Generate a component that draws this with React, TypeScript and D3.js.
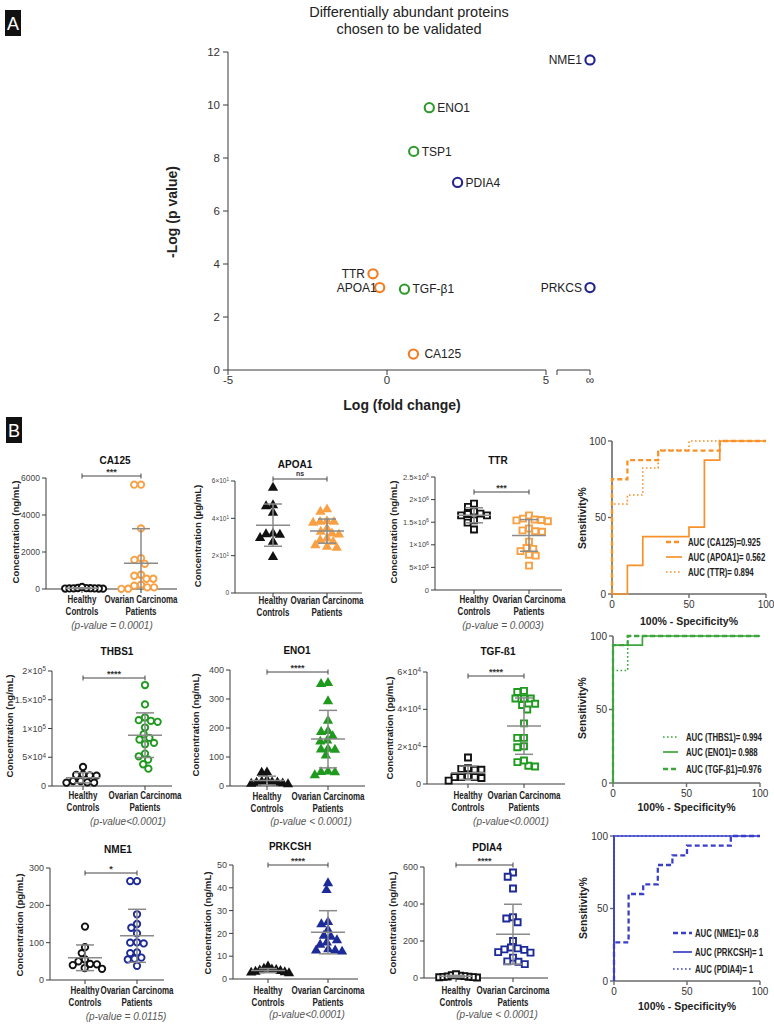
import React from "react";
import * as d3 from "d3";

const FONT = "'Liberation Sans', Arial, Helvetica, sans-serif";

// ---------------- Panel A data ----------------
const volcanoNames = ["NME1", "ENO1", "TSP1", "PDIA4", "TTR", "APOA1", "TGF-β1", "PRKCS", "CA125"];
const volcanoLogFC = [Infinity, 1.33, 0.84, 2.22, -0.44, -0.23, 0.55, Infinity, 0.83];
const volcanoNegLogP = [11.7, 9.9, 8.25, 7.08, 3.63, 3.11, 3.05, 3.11, 0.6];
const volcanoCluster = ["blue", "green", "green", "blue", "orange", "orange", "green", "blue", "orange"];
const volcanoXTicks = [-5, 0, 5];
const volcanoYTicks = [0, 2, 4, 6, 8, 10, 12];

// ---------------- Panel B data ----------------
const groupNames = ["Healthy Controls", "Ovarian Carcinoma Patients"];

const ca125Healthy = [20, 25, 28, 30, 35, 38, 42, 48, 55, 110];
const ca125Ovarian = [5640, 5640, 3276, 1665, 1575, 1360, 770, 555, 555, 716, 180, 90, 10, 15, 90, 233];
const ca125Ticks = [0, 2000, 4000, 6000];
const ca125TickLabels = ["0", "2000", "4000", "6000"];

const apoa1Healthy = [56.4, 46.5, 47, 43, 31.8, 31.5, 31.2, 29.5, 27.4, 19.3];
const apoa1Ovarian = [44.8, 43.5, 38.1, 37.6, 38.1, 38.5, 34.5, 32.8, 31.3, 31.9, 29.2, 28.3, 27.4, 25.6, 24.7, 24.2];
const apoa1Ticks = [0, 20, 40, 60];
const apoa1TickLabels = ["0", "2×10^1", "4×10^1", "6×10^1"];

const ttrHealthy = [1910000, 1840000, 1740000, 1680000, 1650000, 1650000, 1690000, 1540000, 1490000, 1340000];
const ttrOvarian = [1650000, 1560000, 1550000, 1540000, 1520000, 1580000, 1360000, 1320000, 1300000, 1290000, 1070000, 930000, 910000, 860000, 780000, 760000, 540000];
const ttrTicks = [0, 500000, 1000000, 1500000, 2000000, 2500000];
const ttrTickLabels = ["0", "5×10^5", "1×10^6", "1.5×10^6", "2×10^6", "2.5×10^6"];

const thbs1Healthy = [33100, 19800, 18600, 19200, 18000, 8700, 5800, 5800, 6400, 8700];
const thbs1Ovarian = [175600, 141900, 119200, 114500, 113400, 111600, 101700, 90100, 80800, 83700, 72700, 75000, 51700, 56400, 45900, 37800, 30200];
const thbs1Ticks = [0, 50000, 100000, 150000, 200000];
const thbs1TickLabels = ["0", "5×10^4", "1×10^5", "1.5×10^5", "2×10^5"];

const eno1Healthy = [47, 46, 20, 15, 13, 11, 9, 8, 12, 6];
const eno1Ovarian = [355, 352, 292, 225, 190, 186, 172, 157, 153, 128, 126, 125, 105, 48, 37, 47, 50];
const eno1Ticks = [0, 100, 200, 300, 400];
const eno1TickLabels = ["0", "100", "200", "300", "400"];

const tgfHealthy = [14200, 8500, 8000, 7600, 7600, 4100, 3700, 3200, 3700, 3700, 1800];
const tgfOvarian = [49300, 49900, 45800, 45800, 45800, 42300, 43000, 39900, 32500, 24700, 24700, 20200, 19700, 11700, 9400, 9800, 12600];
const tgfTicks = [0, 20000, 40000, 60000];
const tgfTickLabels = ["0", "2×10^4", "4×10^4", "6×10^4"];

const nme1Healthy = [143, 88, 72, 55, 50, 43, 42, 40, 30, 32];
const nme1Ovarian = [265, 265, 176, 150, 140, 125, 101, 100, 98, 74, 72, 60, 57, 55, 38];
const nme1Ticks = [0, 100, 200, 300];
const nme1TickLabels = ["0", "100", "200", "300"];

const prkcshHealthy = [5.5, 4.5, 4.2, 4.0, 3.8, 3.5, 3.2, 3.0, 2.8, 2.5];
const prkcshOvarian = [42, 39, 25, 24, 21.5, 19, 18.5, 17, 16, 15, 13, 12.5, 12, 12.5];
const prkcshTicks = [0, 10, 20, 30, 40, 50];
const prkcshTickLabels = ["0", "10", "20", "30", "40", "50"];

const pdia4Healthy = [3, 4, 5, 6, 7, 8, 10, 12, 15, 20];
const pdia4Ovarian = [570, 547, 484, 328, 322, 301, 200, 160, 155, 152, 165, 140, 137, 110, 90, 88, 75];
const pdia4Ticks = [0, 200, 400, 600];
const pdia4TickLabels = ["0", "200", "400", "600"];

// ROC curves: [100% - specificity, sensitivity]
const rocCA125 = [[0, 0], [0, 75], [10, 75], [10, 87.5], [30, 87.5], [30, 93.75], [70, 93.75], [70, 100], [100, 100]];
const rocAPOA1 = [[0, 0], [10, 0], [10, 18.75], [20, 18.75], [20, 37.5], [50, 37.5], [50, 43.75], [60, 43.75], [60, 87.5], [70, 87.5], [70, 100], [100, 100]];
const rocTTR = [[0, 0], [0, 58.8], [10, 58.8], [10, 64.7], [20, 64.7], [20, 82.4], [30, 82.4], [30, 94.1], [50, 94.1], [50, 100], [100, 100]];
const rocTHBS1 = [[0, 0], [0, 76.5], [10, 76.5], [10, 100], [100, 100]];
const rocENO1 = [[0, 0], [0, 93.75], [20, 93.75], [20, 100], [100, 100]];
const rocTGF = [[0, 0], [0, 93.75], [10, 93.75], [10, 100], [100, 100]];
const rocNME1 = [[0, 0], [0, 26.7], [10, 26.7], [10, 60], [20, 60], [20, 66.7], [30, 66.7], [30, 80], [40, 80], [40, 86.7], [50, 86.7], [50, 93.3], [80, 93.3], [80, 100], [100, 100]];
const rocPRKCSH = [[0, 0], [0, 100], [100, 100]];
const rocPDIA4 = [[0, 0], [0, 100], [100, 100]];
const rocTicks = [0, 50, 100];

// ---------------- styles / layout ----------------
const A_COLORS: Record<string, string> = { orange: "#F47D22", green: "#2E9A2E", blue: "#24248E" };
const B_ORANGE = "#F8A043";
const B_GREEN = "#1F9A1F";
const B_NAVY = "#1D2B98";
const AXIS = "#3a3a3a";
const BAR = "#8a8a8a";

const volcanoLabelAnchor: Record<string, "start" | "end"> = {
  NME1: "end", ENO1: "start", TSP1: "start", PDIA4: "start", TTR: "end",
  APOA1: "end", "TGF-β1": "start", PRKCS: "end", CA125: "start",
};
const volcanoLabelGap: Record<string, number> = { APOA1: 3, CA125: 11 };

type Shape = "circle" | "triangle" | "square";
interface ScatterLayout {
  ax: number; y0: number; yTop: number; cH: number; cO: number; xEnd: number;
  titleX: number; titleY: number; bracketY: number; yLabX: number; yLabY: number;
  catY: number; pX: number; pY: number; tickFont: number;
}
interface ScatterCfg {
  title: string; unit: string; healthy: number[]; ovarian: number[]; ticks: number[];
  tickLabels: string[]; color: string; shape: Shape; hollow: boolean; sig: string;
  p: string | null; L: ScatterLayout;
}

const scatterPanels: ScatterCfg[] = [
  { title: "CA125", unit: "ng/mL", healthy: ca125Healthy, ovarian: ca125Ovarian, ticks: ca125Ticks, tickLabels: ca125TickLabels, color: B_ORANGE, shape: "circle", hollow: true, sig: "***", p: "(p-value = 0.0001)",
    L: { ax: 46, y0: 589, yTop: 478, cH: 82, cO: 141, xEnd: 177, titleX: 115, titleY: 464, bracketY: 476, yLabX: 16, yLabY: 532, catY: 603, pX: 112, pY: 629, tickFont: 8.5 } },
  { title: "APOA1", unit: "µg/mL", healthy: apoa1Healthy, ovarian: apoa1Ovarian, ticks: apoa1Ticks, tickLabels: apoa1TickLabels, color: B_ORANGE, shape: "triangle", hollow: false, sig: "ns", p: null,
    L: { ax: 235, y0: 593, yTop: 481, cH: 273, cO: 327, xEnd: 362, titleX: 295, titleY: 468, bracketY: 479, yLabX: 198, yLabY: 536, catY: 604, pX: 0, pY: 0, tickFont: 6.5 } },
  { title: "TTR", unit: "ng/mL", healthy: ttrHealthy, ovarian: ttrOvarian, ticks: ttrTicks, tickLabels: ttrTickLabels, color: B_ORANGE, shape: "square", hollow: true, sig: "***", p: "(p-value = 0.0003)",
    L: { ax: 435, y0: 590, yTop: 477, cH: 474, cO: 529, xEnd: 562, titleX: 498, titleY: 464, bracketY: 492, yLabX: 394, yLabY: 532, catY: 603, pX: 503, pY: 629, tickFont: 7.5 } },
  { title: "THBS1", unit: "ng/mL", healthy: thbs1Healthy, ovarian: thbs1Ovarian, ticks: thbs1Ticks, tickLabels: thbs1TickLabels, color: B_GREEN, shape: "circle", hollow: true, sig: "****", p: "(p-value<0.0001)",
    L: { ax: 52, y0: 786, yTop: 671, cH: 83, cO: 145, xEnd: 172, titleX: 117, titleY: 655, bracketY: 678, yLabX: 10, yLabY: 726, catY: 799, pX: 128, pY: 825, tickFont: 9 } },
  { title: "ENO1", unit: "ng/mL", healthy: eno1Healthy, ovarian: eno1Ovarian, ticks: eno1Ticks, tickLabels: eno1TickLabels, color: B_GREEN, shape: "triangle", hollow: false, sig: "****", p: "(p-value < 0.0001)",
    L: { ax: 230, y0: 786, yTop: 670, cH: 267, cO: 328, xEnd: 365, titleX: 297, titleY: 654, bracketY: 672, yLabX: 196, yLabY: 725, catY: 800, pX: 311, pY: 825, tickFont: 9 } },
  { title: "TGF-ß1", unit: "pg/mL", healthy: tgfHealthy, ovarian: tgfOvarian, ticks: tgfTicks, tickLabels: tgfTickLabels, color: B_GREEN, shape: "square", hollow: true, sig: "****", p: "(p-value<0.0001)",
    L: { ax: 427, y0: 784, yTop: 672, cH: 468, cO: 524, xEnd: 565, titleX: 498, titleY: 655, bracketY: 676, yLabX: 390, yLabY: 728, catY: 799, pX: 511, pY: 825, tickFont: 9 } },
  { title: "NME1", unit: "pg/mL", healthy: nme1Healthy, ovarian: nme1Ovarian, ticks: nme1Ticks, tickLabels: nme1TickLabels, color: B_NAVY, shape: "circle", hollow: true, sig: "*", p: "(p-value = 0.0115)",
    L: { ax: 50, y0: 980, yTop: 868, cH: 85, cO: 137, xEnd: 164, titleX: 118, titleY: 853, bracketY: 873, yLabX: 20, yLabY: 925, catY: 994, pX: 126, pY: 1020, tickFont: 9 } },
  { title: "PRKCSH", unit: "ng/mL", healthy: prkcshHealthy, ovarian: prkcshOvarian, ticks: prkcshTicks, tickLabels: prkcshTickLabels, color: B_NAVY, shape: "triangle", hollow: false, sig: "****", p: "(p-value<0.0001)",
    L: { ax: 233, y0: 979, yTop: 865, cH: 268, cO: 328, xEnd: 358, titleX: 290, titleY: 850, bracketY: 865, yLabX: 208, yLabY: 923, catY: 994, pX: 307, pY: 1018, tickFont: 9 } },
  { title: "PDIA4", unit: "ng/mL", healthy: pdia4Healthy, ovarian: pdia4Ovarian, ticks: pdia4Ticks, tickLabels: pdia4TickLabels, color: B_NAVY, shape: "square", hollow: true, sig: "****", p: "(p-value < 0.0001)",
    L: { ax: 424, y0: 978, yTop: 867, cH: 456, cO: 513, xEnd: 548, titleX: 487, titleY: 851, bracketY: 865, yLabX: 393, yLabY: 923, catY: 994, pX: 497, pY: 1018, tickFont: 9 } },
];

interface RocCurve { data: number[][]; style: "dashed" | "solid" | "dotted"; label: string }
interface RocCfg {
  color: string; curves: RocCurve[];
  L: { x0: number; x100: number; y0: number; y100: number; yLabX: number; yLabY: number; xLabY: number; lx1: number; lx2: number; tx: number; ly: number[] };
}
const rocPanels: RocCfg[] = [
  { color: "#F7922A", curves: [
      { data: rocAPOA1, style: "solid", label: "AUC (APOA1)= 0.562" },
      { data: rocTTR, style: "dotted", label: "AUC (TTR)= 0.894" },
      { data: rocCA125, style: "dashed", label: "AUC (CA125)=0.925" },
    ],
    L: { x0: 612, x100: 766, y0: 594, y100: 441, yLabX: 586, yLabY: 518, xLabY: 625, lx1: 666, lx2: 682, tx: 688, ly: [557, 572, 542] } },
  { color: "#3DA63D", curves: [
      { data: rocTHBS1, style: "dotted", label: "AUC (THBS1)= 0.994" },
      { data: rocENO1, style: "solid", label: "AUC (ENO1)= 0.988" },
      { data: rocTGF, style: "dashed", label: "AUC (TGF-β1)=0.976" },
    ],
    L: { x0: 613, x100: 760, y0: 783, y100: 636, yLabX: 586, yLabY: 708, xLabY: 811, lx1: 663, lx2: 678, tx: 686, ly: [737, 752, 769] } },
  { color: "#3A3FC8", curves: [
      { data: rocNME1, style: "dashed", label: "AUC (NME1)= 0.8" },
      { data: rocPRKCSH, style: "solid", label: "AUC (PRKCSH)= 1" },
      { data: rocPDIA4, style: "dotted", label: "AUC (PDIA4)= 1" },
    ],
    L: { x0: 614, x100: 760, y0: 981, y100: 836, yLabX: 587, yLabY: 908, xLabY: 1010, lx1: 673, lx2: 692, tx: 695, ly: [933, 952, 969] } },
];

// ---------------- helpers ----------------
function beeswarm(ys: number[], d: number, maxHalf: number): number[] {
  const order = d3.range(ys.length).sort((a, b) => ys[a] - ys[b]);
  const placed: { x: number; y: number }[] = [];
  const out = new Array(ys.length).fill(0);
  for (const i of order) {
    const y = ys[i];
    const forb: [number, number][] = [];
    for (const p of placed) {
      const dy = Math.abs(p.y - y);
      if (dy < d) {
        const w = Math.sqrt(d * d - dy * dy);
        forb.push([p.x - w, p.x + w]);
      }
    }
    const cands = [0];
    forb.forEach(([a, b]) => cands.push(a, b));
    cands.sort((a, b) => Math.abs(a) - Math.abs(b) || a - b);
    let best = 0;
    for (const c of cands) {
      if (forb.every(([a, b]) => c <= a + 1e-6 || c >= b - 1e-6)) { best = c; break; }
    }
    out[i] = best;
    placed.push({ x: best, y });
  }
  const m = d3.max(out, (v: number) => Math.abs(v)) || 0;
  const k = m > maxHalf ? maxHalf / m : 1;
  return out.map((v: number) => v * k);
}

function SupLabel(props: any) {
  const { label, ...rest } = props;
  const [base, exp] = String(label).split("^");
  return (
    <text {...rest}>
      {base}
      {exp ? <tspan dy="-0.45em" fontSize="0.7em">{exp}</tspan> : null}
    </text>
  );
}

function Condensed(props: any) {
  const { x, y, sx, children, ...rest } = props;
  return (
    <g transform={`translate(${x},${y}) scale(${sx},1)`}>
      <text x={0} y={0} {...rest}>{children}</text>
    </g>
  );
}

function dashFor(style: string) {
  if (style === "dashed") return { dash: "5 3", w: 2.3 };
  if (style === "dotted") return { dash: "1.6 2.4", w: 1.6 };
  return { dash: undefined, w: 1.7 };
}

// ---------------- Panel A ----------------
function Volcano() {
  const x = d3.scaleLinear().domain([-5, 5]).range([228, 546]);
  const xBreak = d3.scalePoint<string>().domain(["break", "∞"]).range([557, 590]);
  const y = d3.scaleLinear().domain([0, 12]).range([370, 52]);
  const px = (v: number) => (isFinite(v) ? x(v) : (xBreak("∞") as number));
  const y0 = y(0);
  return (
    <g fontFamily={FONT}>
      <rect x={5} y={10} width={16} height={26} fill="#111" />
      <text x={13} y={30} fill="#fff" fontSize={18} textAnchor="middle">A</text>
      <text x={409} y={17} fontSize={14.5} textAnchor="middle" fill="#222">Differentially abundant proteins</text>
      <text x={409} y={34} fontSize={14.5} textAnchor="middle" fill="#222">chosen to be validated</text>
      <line x1={x(-5)} x2={x(-5)} y1={y0} y2={y(12)} stroke={AXIS} strokeWidth={1} />
      {volcanoYTicks.map((t) => (
        <g key={t}>
          <line x1={x(-5) - 5} x2={x(-5)} y1={y(t)} y2={y(t)} stroke={AXIS} />
          <text x={x(-5) - 8} y={y(t)} dy="0.35em" fontSize={11.5} textAnchor="end" fill="#333">{t}</text>
        </g>
      ))}
      <line x1={x(-5)} x2={x(5)} y1={y0} y2={y0} stroke={AXIS} />
      {volcanoXTicks.map((t) => (
        <g key={t}>
          <line x1={x(t)} x2={x(t)} y1={y0} y2={y0 + 5} stroke={AXIS} />
          <text x={x(t)} y={y0 + 14} fontSize={11.5} textAnchor="middle" fill="#333">{t}</text>
        </g>
      ))}
      <line x1={xBreak("break")} x2={xBreak("∞")} y1={y0} y2={y0} stroke={AXIS} />
      {xBreak.domain().map((k) => (
        <line key={k} x1={xBreak(k)} x2={xBreak(k)} y1={y0} y2={y0 + 5} stroke={AXIS} />
      ))}
      <text x={xBreak("∞")} y={y0 + 14} fontSize={12} textAnchor="middle" fill="#333">∞</text>
      <text transform={`translate(177,212) rotate(-90)`} fontSize={14} fontWeight="bold" textAnchor="middle" fill="#222">-Log (p value)</text>
      <text x={402} y={410} fontSize={14} fontWeight="bold" textAnchor="middle" fill="#222">Log (fold change)</text>
      {volcanoNames.map((n, i) => {
        const cx = px(volcanoLogFC[i]);
        const cy = y(volcanoNegLogP[i]);
        const anchor = volcanoLabelAnchor[n];
        const gap = volcanoLabelGap[n] ?? 8;
        return (
          <g key={n}>
            <circle cx={cx} cy={cy} r={4.6} fill="#fff" stroke={A_COLORS[volcanoCluster[i]]} strokeWidth={2.1} />
            <text x={anchor === "start" ? cx + gap : cx - gap} y={cy} dy="0.36em" fontSize={12} textAnchor={anchor} fill="#222">{n}</text>
          </g>
        );
      })}
    </g>
  );
}

// ---------------- Panel B scatter ----------------
function ScatterPlot({ cfg }: { cfg: ScatterCfg }) {
  const L = cfg.L;
  const yMax = cfg.ticks[cfg.ticks.length - 1];
  const y = d3.scaleLinear().domain([0, yMax]).range([L.y0, L.yTop]);
  const x = d3.scalePoint<string>().domain(groupNames).range([L.cH, L.cO]);
  const symType = cfg.shape === "circle" ? d3.symbolCircle : cfg.shape === "triangle" ? d3.symbolTriangle : d3.symbolSquare;
  const size = cfg.shape === "circle" ? 32 : cfg.shape === "triangle" ? 46 : 36;
  const path = d3.symbol().type(symType).size(size)() as string;
  const groups = [cfg.healthy, cfg.ovarian];
  const colors = ["#111", cfg.color];
  const spacing = cfg.shape === "triangle" ? 7 : 6.8;
  const hx = x(groupNames[0]) as number;
  const ox = x(groupNames[1]) as number;
  const mid = (hx + ox) / 2;
  return (
    <g fontFamily={FONT}>
      <text x={L.titleX} y={L.titleY} fontSize={10} fontWeight="bold" textAnchor="middle" fill="#111">{cfg.title}</text>
      <text transform={`translate(${L.yLabX},${L.yLabY}) rotate(-90)`} fontSize={9.6} fontWeight="bold" textAnchor="middle" dy="0.35em" fill="#222">{`Concentration (${cfg.unit})`}</text>
      <line x1={L.ax} x2={L.ax} y1={L.y0} y2={y(yMax)} stroke={AXIS} strokeWidth={1} />
      {cfg.ticks.map((t, i) => (
        <g key={t}>
          <line x1={L.ax - 4} x2={L.ax} y1={y(t)} y2={y(t)} stroke={AXIS} />
          <SupLabel label={cfg.tickLabels[i]} x={L.ax - 6} y={y(t)} dy="0.35em" fontSize={L.tickFont} textAnchor="end" fill="#444" />
        </g>
      ))}
      <line x1={L.ax} x2={L.xEnd} y1={L.y0} y2={L.y0} stroke={AXIS} />
      {groupNames.map((g) => (
        <line key={g} x1={x(g)} x2={x(g)} y1={L.y0} y2={L.y0 + 4} stroke={AXIS} />
      ))}
      <g fontWeight="bold" fontSize={10.5} fill="#222" textAnchor="middle">
        <Condensed sx={0.76} x={hx} y={L.catY}>Healthy</Condensed>
        <Condensed sx={0.76} x={hx} y={L.catY + 11.5}>Controls</Condensed>
        <Condensed sx={0.76} x={ox} y={L.catY}>Ovarian Carcinoma</Condensed>
        <Condensed sx={0.76} x={ox} y={L.catY + 11.5}>Patients</Condensed>
      </g>
      {cfg.p ? (
        <text x={L.pX} y={L.pY} fontSize={10} fontStyle="italic" textAnchor="middle" fill="#555">{cfg.p}</text>
      ) : null}
      <g stroke="#444" strokeWidth={1}>
        <line x1={hx} x2={ox} y1={L.bracketY} y2={L.bracketY} />
        <line x1={hx} x2={hx} y1={L.bracketY - 2.5} y2={L.bracketY + 2.5} />
        <line x1={ox} x2={ox} y1={L.bracketY - 2.5} y2={L.bracketY + 2.5} />
      </g>
      <text x={mid} y={cfg.sig === "ns" ? L.bracketY - 3 : L.bracketY - 1.5} fontSize={cfg.sig === "ns" ? 7 : 9} fontWeight="bold" textAnchor="middle" fill="#333">{cfg.sig}</text>
      {groups.map((vals, gi) => {
        const cx = gi === 0 ? hx : ox;
        const ys = vals.map((v) => y(v));
        const offs = beeswarm(ys, spacing, 21);
        return (
          <g key={gi}>
            {vals.map((v, i) => (
              <path key={i} d={path} transform={`translate(${cx + offs[i]},${ys[i]})`}
                fill={cfg.hollow ? "#fff" : colors[gi]} stroke={cfg.hollow ? colors[gi] : "none"} strokeWidth={cfg.hollow ? 1.9 : 0} />
            ))}
          </g>
        );
      })}
      {groups.map((vals, gi) => {
        const cx = gi === 0 ? hx : ox;
        const m = d3.mean(vals) as number;
        const sd = d3.deviation(vals) as number;
        const hi = Math.min(m + sd, yMax);
        const lo = Math.max(m - sd, 0);
        return (
          <g key={`m${gi}`} stroke={BAR} strokeWidth={1.5}>
            <line x1={cx - 17} x2={cx + 17} y1={y(m)} y2={y(m)} />
            <line x1={cx} x2={cx} y1={y(lo)} y2={y(hi)} />
            <line x1={cx - 9} x2={cx + 9} y1={y(hi)} y2={y(hi)} />
            {m - sd > 0 ? <line x1={cx - 9} x2={cx + 9} y1={y(lo)} y2={y(lo)} /> : null}
          </g>
        );
      })}
    </g>
  );
}

// ---------------- ROC ----------------
function RocPlot({ cfg }: { cfg: RocCfg }) {
  const L = cfg.L;
  const x = d3.scaleLinear().domain([0, 100]).range([L.x0, L.x100]);
  const y = d3.scaleLinear().domain([0, 100]).range([L.y0, L.y100]);
  const line = d3.line<number[]>().x((d) => x(d[0])).y((d) => y(d[1]));
  return (
    <g fontFamily={FONT}>
      <line x1={L.x0} x2={L.x0} y1={L.y0} y2={L.y100} stroke="#6a6a6a" strokeWidth={1.6} />
      <line x1={L.x0} x2={L.x100} y1={L.y0} y2={L.y0} stroke="#6a6a6a" strokeWidth={1.6} />
      {rocTicks.map((t) => (
        <g key={t}>
          <line x1={L.x0 - 4} x2={L.x0} y1={y(t)} y2={y(t)} stroke="#6a6a6a" strokeWidth={1.4} />
          <text x={L.x0 - 6} y={y(t)} dy="0.35em" fontSize={10} textAnchor="end" fill="#333">{t}</text>
          <line x1={x(t)} x2={x(t)} y1={L.y0} y2={L.y0 + 4} stroke="#6a6a6a" strokeWidth={1.4} />
          <text x={x(t)} y={L.y0 + 13.5} fontSize={10} textAnchor="middle" fill="#333">{t}</text>
        </g>
      ))}
      {cfg.curves.map((c, i) => {
        const s = dashFor(c.style);
        return <path key={i} d={line(c.data) as string} fill="none" stroke={cfg.color} strokeWidth={s.w} strokeDasharray={s.dash} />;
      })}
      {cfg.curves.map((c, i) => {
        const s = dashFor(c.style);
        return (
          <g key={`l${i}`}>
            <line x1={L.lx1} x2={L.lx2} y1={L.ly[i]} y2={L.ly[i]} stroke={cfg.color} strokeWidth={s.w} strokeDasharray={s.dash} />
            <Condensed sx={0.78} x={L.tx} y={L.ly[i]} dy="0.35em" fontWeight="bold" fontSize={10} fill="#222">{c.label}</Condensed>
          </g>
        );
      })}
      <text transform={`translate(${L.yLabX},${L.yLabY}) rotate(-90)`} fontSize={10.5} fontWeight="bold" textAnchor="middle" fill="#222">Sensitivity%</text>
      <text x={(L.x0 + L.x100) / 2} y={L.xLabY} fontSize={10.5} fontWeight="bold" textAnchor="middle" fill="#222">100% - Specificity%</text>
    </g>
  );
}

export default function App() {
  return (
    <svg width={774} height={1024} viewBox="0 0 774 1024" style={{ position: "absolute", left: 0, top: 0, background: "#fff" }}>
      <rect width={774} height={1024} fill="#fff" />
      <Volcano />
      <g fontFamily={FONT}>
        <rect x={6} y={417} width={16} height={26} fill="#111" />
        <text x={14} y={437} fill="#fff" fontSize={18} textAnchor="middle">B</text>
      </g>
      {scatterPanels.map((p) => <ScatterPlot key={p.title} cfg={p} />)}
      {rocPanels.map((r, i) => <RocPlot key={i} cfg={r} />)}
    </svg>
  );
}
